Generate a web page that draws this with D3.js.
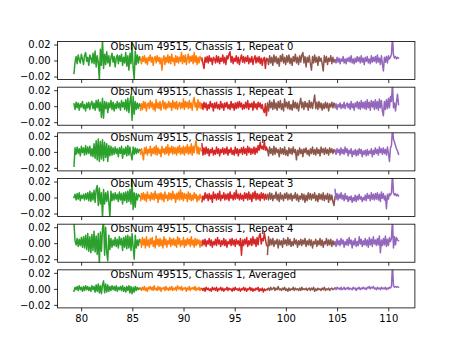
<!DOCTYPE html>
<html><head><meta charset="utf-8">
<script src="https://cdn.jsdelivr.net/npm/d3@7"></script>
<style>
body{margin:0;background:#fff}
svg{display:block}
text{font-family:"DejaVu Sans",sans-serif;font-size:10px;fill:#000}
</style>
</head><body><svg id="c" width="461" height="346"></svg>
<script>
// Values are in units of 1e-3 (thousandths); 64 evenly spaced channels per segment
const segStarts = [79.3, 85.8, 91.8, 98.2, 104.8];
const segEnds   = [85.8, 91.8, 98.2, 104.8, 111.0];

// Repeat 0
const g0 = [-16,-2,5,-4,7,1,-3,8,2,-5, 6,10,-1,4,-6,7,3,-3,9,-4, 12,-8,6,-2,-24,14,-6,26,-10,8, -5,11,-3,6,-7,4,9,-2,5,-8, 3,7,-4,6,-1,8,-6,4,-3,10, -7,6,-12,9,-4,20,-9,-23,12,-5, 7,-3,5,1];
const o0 = [2,-4,5,-1,6,-3,3,-5,4,0, 7,-2,4,-6,3,5,-3,6,-1,4, -4,3,-12,2,6,-5,4,-2,7,-3, 5,-4,8,-1,3,-6,6,-2,5,-3, 4,-1,10,-4,6,-2,7,-5,3,8, -3,5,-1,6,-4,10,-2,6,-5,4, -3,5,2,-1];
const r0 = [3,-4,-10,4,-2,5,-3,6,-1,3, -5,4,2,-3,6,-2,5,-4,3,-1, 7,-3,4,-5,6,2,8,11,-2,5, -4,3,-1,6,-3,4,-5,2,7,-2, 5,-3,4,-1,6,-4,3,-2,5,-5, 2,6,-3,4,-2,5,-4,3,-6,2, 4,-10,3,1];
const b0 = [2,-5,6,-3,4,-6,7,-2,5,-4, 3,-7,6,-1,8,-3,4,-5,6,-2, 7,-4,3,-6,5,-1,8,-3,4,-5, 6,-2,7,10,-3,5,-8,4,-2,6, -4,-12,5,-3,7,-2,4,-6,5,-1, 3,-4,-13,6,-2,5,-5,3,-1,6, -4,4,-2,1];
const p0 = [1,-3,4,-2,3,-4,2,-1,5,-3, 2,-4,3,-1,4,-2,6,-3,2,-4, 3,-2,5,-1,4,-3,6,-2,3,-5, 4,-1,5,-3,2,-4,6,-2,4,-1, 5,-3,7,-2,3,-5,6,-4,-13,4, -2,5,-3,6,2,4,8,30,7,3, 5,2,4,3];
// Repeat 1
const g1 = [3,-4,5,-2,4,-5,3,-1,6,-3, 2,-6,4,-2,5,-4,3,6,-3,4, -5,7,-2,8,-6,5,-14,10,-15,6, -3,5,-8,4,-2,7,-4,5,-6,3, -3,6,-2,4,-5,7,-1,5,-4,8, -6,10,-8,6,14,-18,12,-10,6,-4, 4,-3,3,0];
const o1 = [-5,3,-4,6,-2,5,-6,2,4,-3, 7,-1,5,-4,3,-6,8,-2,4,-3, 6,-5,2,7,-3,5,-4,3,-2,6, -1,4,-5,7,-2,5,-3,6,-4,2, 5,-3,4,-2,9,-4,6,-1,5,-3, 7,-2,4,-5,6,11,-1,4,-5,8, -2,5,-3,1];
const r1 = [3,-4,5,-2,4,-5,2,-3,6,-1, 3,-6,4,-2,5,-3,2,-4,6,-2, 3,-5,4,-1,5,-3,2,-4,6,-2, 3,-5,4,-3,5,-2,6,-1,4,-4, 2,-3,5,-2,7,-4,3,-1,4,-5, 6,-2,3,-4,5,-1,4,-3,2,-5, -8,3,-12,1];
const b1 = [4,-6,7,-2,5,-4,8,-3,4,-5, 6,-2,7,-4,3,-6,9,-1,5,-3, 6,-4,2,-5,7,-2,5,-3,4,-6, 3,10,-2,5,-4,6,-1,4,-5,7, -2,5,-3,6,14,-3,5,-4,6,-2, 4,-5,3,-3,5,-2,4,-6,3,-1, 5,-2,4,0];
const p1 = [-2,3,-4,2,-1,4,-3,2,-2,5, -3,1,4,-2,3,-4,6,-2,3,-5, 4,-1,6,-3,5,-4,7,-2,5,-3, 6,-4,8,-2,5,-5,7,-1,6,-4, 8,-3,6,-5,9,-2,7,-6,-12,6, -4,8,-3,10,-2,12,6,30,-2,4, -6,5,15,2];
// Repeat 2
const g2 = [-18,5,-3,6,-2,4,-5,7,-1,5, -4,8,-3,6,-2,7,-5,4,-6,10, -8,14,-10,16,-12,13,-9,15,-11,12, -7,10,-12,8,-5,7,-4,5,-3,6, -2,4,-6,5,-2,7,-8,4,-3,6, -5,8,-4,6,-3,-10,6,-3,5,-2, 4,-1,3,2];
const o2 = [-3,4,-2,-10,5,-2,6,-4,3,-1, 7,-5,4,-2,6,-3,8,-4,5,-2, 3,-6,7,-1,4,-3,6,-2,9,-4, 5,-1,7,-3,6,-2,5,-4,6,-1, 8,-3,5,-2,7,-4,6,-1,9,-3, 6,-2,10,-4,7,-1,8,14,-2,6, -3,5,2,1];
const r2 = [10,-4,5,-3,6,-2,4,-5,3,-1, 5,-4,2,-3,6,-2,4,-5,3,-1, 5,-3,4,-2,6,-4,3,-1,5,-3, 2,-4,6,-2,4,-5,3,-1,5,-3, 6,-2,4,-4,7,-1,5,-3,4,-2, 6,-3,5,-1,8,2,12,4,7,3, 13,2,6,1];
const b2 = [3,-5,6,-2,4,-4,7,-3,5,-1, 3,-6,5,-2,4,-3,6,-4,2,-5, 5,-2,4,-3,6,-1,3,-10,2,-4, 5,-2,3,-6,4,-1,5,-3,2,-5, 4,-2,6,-3,3,-4,5,-2,3,-5, 6,-1,4,-3,5,-2,3,-4,5,-1, 4,-2,3,0];
const p2 = [2,-3,4,-1,3,-4,5,-2,3,-3, 6,-1,4,-5,2,-2,4,-6,1,-3, 3,-5,2,-4,4,-2,3,-6,1,-3, 2,-5,3,-4,1,-2,4,-6,2,-3, 5,-2,3,-4,6,-1,4,-3,5,-2, 3,-4,6,-2,-12,5,8,30,16,12, 8,4,1,-3];
// Repeat 3
const g3 = [0,4,-3,5,-2,6,-4,3,-1,4, -3,5,-2,6,-4,8,-5,6,-3,9, -6,10,15,-10,12,-8,6,-26,10,-8, 6,-5,8,-6,-25,8,-4,5,-3,6, -2,4,-5,7,-3,5,-8,6,-4,7, -6,8,-5,10,-8,22,-15,6,-12,5, -3,4,2,0];
const o3 = [-4,5,-2,6,-3,4,-5,7,-1,3, -4,6,-2,5,-3,8,-1,4,-6,5, -2,6,-3,4,-5,7,-1,3,-4,6, -2,5,-3,8,-1,4,-6,5,-2,7, -3,10,-2,6,-4,5,-1,4,-5,7, -2,5,-4,3,-3,6,-1,4,-5,2, -3,4,-1,1];
const r3 = [-5,2,-3,6,-1,4,-4,5,-2,3, -6,7,-1,4,-3,5,-2,8,-4,3, -1,6,-3,4,-2,5,-4,7,-1,3, -3,6,-2,9,-1,4,-3,5,-2,3, -4,6,-1,5,-3,7,-2,4,-5,6, -1,8,-3,5,-2,4,-4,6,-1,5, -3,4,-2,3];
const b3 = [4,-3,6,-2,5,-4,3,-1,7,-3, 4,-5,6,-2,3,-4,5,-1,6,-3, 4,-2,5,-4,3,-1,6,-3,4,-5, 2,-2,5,-3,4,-6,3,-4,6,-2, 5,-3,4,-1,6,-4,3,-5,5,-2, 4,-3,6,-4,3,-2,5,-6,4,-3, 3,-5,-10,1];
const p3 = [10,-2,5,-3,4,-1,6,-2,3,-4, 5,-2,2,-5,1,-3,2,-6,0,-4, 3,-5,2,-3,4,-2,1,-5,0,-3, 3,-4,5,-1,3,-4,6,-2,4,-3, 5,-2,6,-3,4,-5,7,-1,5,-3, 2,-14,4,-2,5,3,6,30,6,3, 5,2,4,2];
// Repeat 4
const g4 = [25,3,-2,6,-4,5,-3,7,-5,8, -6,10,-8,12,-10,8,-12,11,-9,15, -11,9,-14,12,-26,14,-10,18,28,-15, 20,-12,-22,10,-8,6,-5,4,-3,7, -4,5,-6,8,-2,6,-9,7,-5,9, -7,10,-6,8,-9,12,-4,-20,10,-6, 4,-3,5,2];
const o4 = [4,-5,7,-2,5,-6,8,-3,4,-5, 6,-1,7,-4,3,-6,9,-2,5,-4, 6,-3,4,-6,8,-2,5,-5,3,-1, 7,-4,5,-2,6,-3,4,-5,8,-1, 6,-4,3,-2,7,-5,4,-3,6,-1, 5,-4,8,-2,4,-5,6,-3,5,-1, 4,-5,3,1];
const r4 = [-3,4,-2,5,-4,3,-1,6,-3,4, -5,2,-2,5,-3,7,-1,4,-4,3, -2,6,-3,4,-5,2,-1,5,-3,6, -2,4,-4,5,-1,3,-3,6,-15,4, -3,5,-1,7,-4,3,-2,6,-3,8, -1,5,-4,7,-2,9,12,-1,6,3, 13,5,-2,-4];
const b4 = [-14,8,-3,5,-2,6,-4,3,-1,5, -6,4,-2,3,-5,6,-1,4,-3,7, -2,5,-4,2,-3,6,-1,4,-5,3, -2,5,-3,4,-1,6,-4,3,-2,5, -3,4,-6,2,-1,5,-4,3,-2,6, -3,4,-5,2,-1,6,-3,4,-2,5, -4,3,-2,1];
const p4 = [2,-4,5,-2,3,-3,6,-1,4,-5, 2,-2,5,-3,7,-1,4,-6,3,-2, 6,-4,2,-3,8,-1,5,-4,3,-2, 6,-3,4,-5,7,-2,5,-4,8,-1, 4,-3,6,-2,9,-12,4,-3,6,-2, 9,-4,5,-3,7,2,6,30,-6,8, -2,7,4,3];
// Averaged
const g5 = [-3,2,-1,3,-2,4,-1,2,-3,3, -2,4,-1,3,-2,2,-3,4,-1,3, -4,5,-3,6,-5,4,-6,5,10,-5, 6,-4,5,-3,3,-2,4,-1,3,-2, 4,-3,2,-1,3,-2,4,-3,2,-4, 3,-2,4,-5,3,-6,2,-4,3,-2, 2,-1,1,0];
const o5 = [1,-2,2,-1,3,-2,1,-3,2,0, 3,-1,2,-2,4,-1,1,-2,3,-1, 2,-3,1,0,2,-2,3,-1,1,-2, 2,-1,3,-2,1,-1,2,-2,4,0, 2,-1,3,-2,1,0,2,-3,1,-1, 3,-2,1,0,2,-1,3,-2,1,-1, 2,-2,1,0];
const r5 = [0,-2,1,-3,2,-1,1,-2,0,-3, 2,-1,1,-2,2,-3,0,-1,2,-2, 1,-3,0,-1,2,-2,1,-1,0,-3, 1,-2,2,-1,0,-2,1,-3,0,-1, 2,-2,1,-3,0,-1,2,-2,1,-3, 0,-2,1,-1,2,-3,0,-2,1,-4, 0,-2,-1,0];
const b5 = [-1,1,-2,2,-1,0,2,-2,1,-1, 3,-1,0,-2,1,-1,2,-2,0,-3, 1,-2,0,-1,2,-2,1,-1,0,-2, 1,-2,2,-1,0,-1,1,-2,0,1, -2,1,-1,2,-3,0,-2,1,-1,0, -2,1,-1,2,-2,0,-1,1,-2,0, 1,-1,0,1];
const p5 = [1,-1,2,0,1,-1,2,-1,0,2, -1,1,0,2,-1,1,0,-1,2,0, 1,-2,1,0,2,-1,1,0,2,0, 1,-1,2,1,3,0,2,1,3,0, 1,-1,2,0,1,-1,2,0,1,0, 2,-1,1,0,2,1,3,30,4,2, 3,2,3,2];

const titles = [
  "ObsNum 49515, Chassis 1, Repeat 0",
  "ObsNum 49515, Chassis 1, Repeat 1",
  "ObsNum 49515, Chassis 1, Repeat 2",
  "ObsNum 49515, Chassis 1, Repeat 3",
  "ObsNum 49515, Chassis 1, Repeat 4",
  "ObsNum 49515, Chassis 1, Averaged"
];
const xTickValues = [80, 85, 90, 95, 100, 105, 110];
const yTickValues = [-20, 0, 20];
const yTickLabels = ["\u22120.02", "0.00", "0.02"];

const panels = [
  [g0, o0, r0, b0, p0],
  [g1, o1, r1, b1, p1],
  [g2, o2, r2, b2, p2],
  [g3, o3, r3, b3, p3],
  [g4, o4, r4, b4, p4],
  [g5, o5, r5, b5, p5]
];

// ---- styles / layout ----
const colors = ["#2ca02c", "#ff7f0e", "#d62728", "#8c564b", "#9467bd"];
const W = 461, H = 346;
const mLeft = 57.6, mRight = 414.9, mTop = 41.5, mBottom = 307.9;
const nP = panels.length;
const ph = (mBottom - mTop) / (nP + (nP - 1) * 0.2);
const gap = ph * 0.2;

const svg = d3.select("#c");
svg.append("rect").attr("width", W).attr("height", H).attr("fill", "#fff");

const x = d3.scaleLinear().domain([77.7, 112.6]).range([mLeft, mRight]);

panels.forEach((segs, pi) => {
  const y0 = mTop + pi * (ph + gap);
  const y = d3.scaleLinear().domain([-23.8, 23.8]).range([y0 + ph, y0]);
  const g = svg.append("g");
  const clipId = "clip" + pi;
  svg.append("clipPath").attr("id", clipId).append("rect")
    .attr("x", mLeft).attr("y", y0).attr("width", mRight - mLeft).attr("height", ph);

  const line = d3.line().x(d => x(d[0])).y(d => y(d[1]));
  const lg = g.append("g").attr("clip-path", `url(#${clipId})`);
  segs.forEach((vals, si) => {
    const s = segStarts[si], e = segEnds[si];
    const pts = vals.map((v, i) => [s + (e - s) * i / (vals.length - 1), v]);
    lg.append("path").attr("d", line(pts)).attr("fill", "none")
      .attr("stroke", colors[si]).attr("stroke-width", 1.5)
      .attr("stroke-linejoin", "round").attr("stroke-linecap", "square");
  });

  g.append("rect").attr("x", mLeft).attr("y", y0).attr("width", mRight - mLeft).attr("height", ph)
    .attr("fill", "none").attr("stroke", "#000").attr("stroke-width", 0.8);

  const ya = d3.axisLeft(y).tickValues(yTickValues).tickSize(3.5).tickPadding(3.5)
    .tickFormat((d, i) => yTickLabels[i]);
  const yg = g.append("g").attr("transform", `translate(${mLeft},0)`).call(ya);
  yg.select(".domain").remove();
  yg.selectAll("line").attr("stroke", "#000").attr("stroke-width", 0.8);
  yg.selectAll("text").attr("font-size", 10).attr("font-family", "DejaVu Sans").attr("fill", "#000");

  const xa = d3.axisBottom(x).tickValues(xTickValues).tickSize(3.5).tickPadding(3.5)
    .tickFormat(pi === nP - 1 ? d3.format("d") : () => "");
  const xg = g.append("g").attr("transform", `translate(0,${y0 + ph})`).call(xa);
  xg.select(".domain").remove();
  xg.selectAll("line").attr("stroke", "#000").attr("stroke-width", 0.8);
  xg.selectAll("text").attr("font-size", 10).attr("font-family", "DejaVu Sans").attr("fill", "#000");

  g.append("text").attr("x", 110.6).attr("y", y0 + 8).text(titles[pi]);
});
</script>
</body></html>
